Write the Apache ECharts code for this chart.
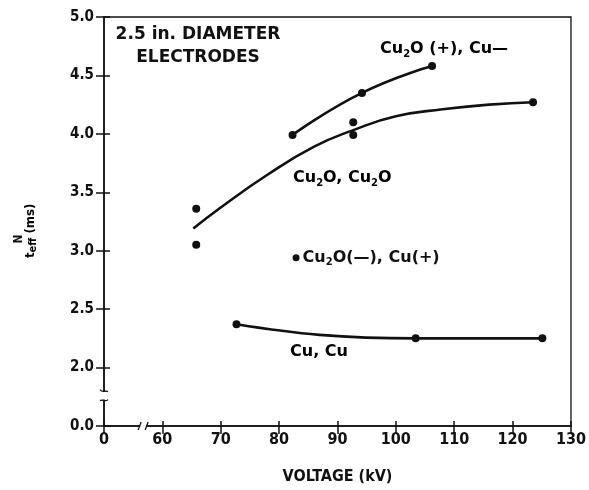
<!DOCTYPE html>
<html><head><meta charset="utf-8">
<script src="https://cdn.jsdelivr.net/npm/echarts@6/dist/echarts.min.js"></script>
<style>html,body{margin:0;padding:0;background:#fff}#c{width:589px;height:490px}</style>
</head><body><div id="c"></div>
<script>
// Tick labels (axes are broken: first tick shows 0 / 0.0)
const xTickLabels = ['0','60','70','80','90','100','110','120','130'];
const yTickLabels = ['0.0','2.0','2.5','3.0','3.5','4.0','4.5','5.0'];

// Cu2O (+), Cu-  : measured points joined by a curve
const cu2oPlusCuMinus = [[82.3,3.99],[94.2,4.35],[106.2,4.58]];
// Cu2O, Cu2O : measured points and fitted curve
const cu2oCu2oPoints = [[65.8,3.36],[65.8,3.05],[92.7,4.10],[92.7,3.99],[123.5,4.27]];
const cu2oCu2oCurve = [[65.3,3.19],[70,3.37],[78,3.65],[86,3.89],[92.6,4.03],[100,4.15],[108,4.21],[116,4.25],[123.5,4.27]];
// Cu, Cu : measured points and curve
const cuCuPoints = [[72.7,2.37],[103.4,2.25],[125.1,2.25]];
const cuCuCurve = [[72.7,2.37],[86.9,2.28],[103.4,2.25],[125.1,2.25]];
// Cu2O(-), Cu(+) : single point
const cu2oMinusCuPlus = [[82.9,2.94]];

const XMIN = 50, XMAX = 130, XINT = 10;
const YMIN = 1.5, YMAX = 5.0, YINT = 0.5;
const INK = '#111';
const numFont = '"DejaVu Sans Condensed", "Liberation Sans", sans-serif';
const txtFont = '"DejaVu Sans", sans-serif';

const subRich = {
  a: {fontFamily: txtFont, fontWeight: 'bold', fontSize: 16, lineHeight: 20, color: INK},
  s: {fontFamily: txtFont, fontWeight: 'bold', fontSize: 10, lineHeight: 10, verticalAlign: 'bottom', color: INK}
};

const chart = echarts.init(document.getElementById('c'), null, {renderer: 'canvas'});
const option = {
  animation: false,
  backgroundColor: '#fff',
  grid: {left: 104, right: 17, top: 17, bottom: 63, show: true, borderColor: INK, borderWidth: 1.3, backgroundColor: 'transparent'},
  xAxis: [{
    type: 'value', min: XMIN, max: XMAX, interval: XINT,
    axisLine: {show: true, onZero: false, lineStyle: {color: INK, width: 1.6}},
    axisTick: {show: true, inside: false, length: 8, lineStyle: {color: INK, width: 1.5}},
    axisLabel: {color: INK, fontFamily: numFont, fontWeight: 'bold', fontSize: 16, margin: 6,
      formatter: v => xTickLabels[Math.round((v - XMIN) / XINT)]},
    splitLine: {show: false},
    name: 'VOLTAGE (kV)', nameLocation: 'middle', nameGap: 43,
    nameTextStyle: {color: INK, fontFamily: numFont, fontWeight: 'bold', fontSize: 16}
  }, {
    type: 'value', min: XMIN, max: XMAX, interval: XINT, position: 'bottom',
    axisLine: {show: false}, axisLabel: {show: false}, splitLine: {show: false},
    axisTick: {show: true, inside: true, length: 5, lineStyle: {color: INK, width: 1.5}}
  }],
  yAxis: [{
    type: 'value', min: YMIN, max: YMAX, interval: YINT,
    axisLine: {show: true, onZero: false, lineStyle: {color: INK, width: 1.6}},
    axisTick: {show: true, inside: false, length: 8, lineStyle: {color: INK, width: 1.5}},
    axisLabel: {color: INK, fontFamily: numFont, fontWeight: 'bold', fontSize: 15, margin: 10,
      formatter: v => yTickLabels[Math.round((v - YMIN) / YINT)]},
    splitLine: {show: false}
  }, {
    type: 'value', min: YMIN, max: YMAX, interval: YINT, position: 'left',
    axisLine: {show: false}, axisLabel: {show: false}, splitLine: {show: false},
    axisTick: {show: true, inside: true, length: 6, lineStyle: {color: INK, width: 1.5}}
  }],
  series: [
    {type: 'line', data: cu2oPlusCuMinus, smooth: 0.5, symbol: 'circle', symbolSize: 8,
     lineStyle: {color: INK, width: 2.6}, itemStyle: {color: INK, opacity: 1}},
    {type: 'line', data: cu2oCu2oCurve, smooth: 0.5, showSymbol: false,
     lineStyle: {color: INK, width: 2.6}},
    {type: 'scatter', data: cu2oCu2oPoints, symbol: 'circle', symbolSize: 8, itemStyle: {color: INK, opacity: 1}},
    {type: 'line', data: cuCuCurve, smooth: 0.4, showSymbol: false,
     lineStyle: {color: INK, width: 2.6}},
    {type: 'scatter', data: cuCuPoints, symbol: 'circle', symbolSize: 8, itemStyle: {color: INK, opacity: 1}},
    {type: 'scatter', data: cu2oMinusCuPlus, symbol: 'circle', symbolSize: 7, itemStyle: {color: INK, opacity: 1},
     label: {show: true, position: 'right', distance: 3, color: INK, opacity: 1,
       formatter: '{a|Cu}{s|2}{a|O(—), Cu(+)}', rich: subRich}}
  ]
};
chart.setOption(option);

// Decorations: axis break marks, annotations, y-axis title
const yb = chart.convertToPixel({gridIndex: 0}, [XMIN, 1.76]);
const xb = chart.convertToPixel({gridIndex: 0}, [56.7, YMIN]);
const gr = [];
// y-axis break
gr.push({type: 'rect', shape: {x: yb[0] - 3, y: yb[1] - 4, width: 6, height: 8}, style: {fill: '#fff'}, z: 100});
gr.push({type: 'bezierCurve', shape: {x1: yb[0] - 4, y1: yb[1] - 6, cpx1: yb[0] - 1, cpy1: yb[1] - 2, cpx2: yb[0] + 1, cpy2: yb[1] - 6, x2: yb[0] + 4, y2: yb[1] - 4}, style: {stroke: INK, lineWidth: 1.3, fill: null}, z: 101});
gr.push({type: 'bezierCurve', shape: {x1: yb[0] - 4, y1: yb[1] + 5, cpx1: yb[0] - 1, cpy1: yb[1] + 3, cpx2: yb[0] + 1, cpy2: yb[1] + 7, x2: yb[0] + 4, y2: yb[1] + 4}, style: {stroke: INK, lineWidth: 1.3, fill: null}, z: 101});
// x-axis break
gr.push({type: 'rect', shape: {x: xb[0] - 3, y: xb[1] - 3, width: 6, height: 6}, style: {fill: '#fff'}, z: 100});
gr.push({type: 'line', shape: {x1: xb[0] - 5, y1: xb[1] + 4, x2: xb[0] - 2, y2: xb[1] - 4}, style: {stroke: INK, lineWidth: 1.3}, z: 101});
gr.push({type: 'line', shape: {x1: xb[0] + 2, y1: xb[1] + 4, x2: xb[0] + 5, y2: xb[1] - 4}, style: {stroke: INK, lineWidth: 1.3}, z: 101});
// annotations
gr.push({type: 'text', x: 198, y: 23, z: 110, style: {text: '2.5 in. DIAMETER\nELECTRODES', align: 'center', verticalAlign: 'top',
  font: 'bold 17px "DejaVu Sans"', lineHeight: 23, fill: INK}});
gr.push({type: 'text', x: 380, y: 49, z: 110, style: {text: '{a|Cu}{s|2}{a|O (+), Cu—}', rich: subRich, align: 'left', verticalAlign: 'middle'}});
gr.push({type: 'text', x: 293, y: 178, z: 110, style: {text: '{a|Cu}{s|2}{a|O, Cu}{s|2}{a|O}', rich: subRich, align: 'left', verticalAlign: 'middle'}});
gr.push({type: 'text', x: 290, y: 352, z: 110, style: {text: '{a|Cu, Cu}', rich: subRich, align: 'left', verticalAlign: 'middle'}});
// y-axis title (rotated)
gr.push({type: 'text', x: 19, y: 239, rotation: Math.PI / 2, z: 110, style: {text: 'N', align: 'center', verticalAlign: 'middle',
  font: 'bold 12px "DejaVu Sans Condensed"', fill: INK}});
gr.push({type: 'text', x: 31, y: 258, rotation: Math.PI / 2, z: 110, style: {text: '{t|t}{e|eff}{t| (ms)}', align: 'left', verticalAlign: 'middle',
  rich: {t: {fontFamily: numFont, fontWeight: 'bold', fontSize: 13, lineHeight: 15, color: INK},
         e: {fontFamily: numFont, fontWeight: 'bold', fontSize: 11, lineHeight: 11, verticalAlign: 'bottom', color: INK}}}});
chart.setOption({graphic: gr});
</script>
</body></html>
